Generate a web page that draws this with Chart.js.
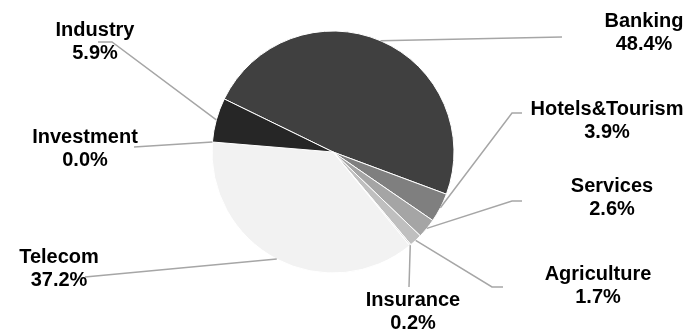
<!DOCTYPE html>
<html>
<head>
<meta charset="utf-8">
<script src="https://cdn.jsdelivr.net/npm/chart.js@4.4.0/dist/chart.umd.min.js"></script>
<style>
  html, body { margin: 0; padding: 0; background: #fff; }
  #wrap { width: 685px; height: 329px; }
</style>
</head>
<body>
<div id="wrap"><canvas id="myChart"></canvas></div>
<script>
// data
const sectors = ['Banking', 'Hotels&Tourism', 'Services', 'Agriculture', 'Insurance', 'Telecom', 'Investment', 'Industry'];
const shares = [48.4, 3.9, 2.6, 1.7, 0.2, 37.2, 0.0, 5.9];
const sliceColors = ['#404040', '#7f7f7f', '#a5a5a5', '#bfbfbf', '#d9d9d9', '#f2f2f2', '#0d0d0d', '#262626'];

// label placement: text center x, first baseline y, leader elbow, leader end
const labelPos = [
	{ tx: 644, ty: 27,  ex: 562, ey: 37,  hx: 562 },
	{ tx: 607, ty: 115, ex: 512, ey: 113, hx: 522 },
	{ tx: 612, ty: 192, ex: 512, ey: 201, hx: 522 },
	{ tx: 598, ty: 280, ex: 492, ey: 287, hx: 503 },
	{ tx: 413, ty: 306, ex: 409, ey: 287, hx: 409 },
	{ tx: 59,  ty: 263, ex: 85,  ey: 277, hx: 85 },
	{ tx: 85,  ty: 143, ex: 134, ey: 147, hx: 134 },
	{ tx: 95,  ty: 36,  ex: 112, ey: 42,  hx: 98 }
];

const ctx = document.querySelector('#myChart');

const leaderLabels = {
	id: 'leaderLabels',
	afterDatasetsDraw(chart) {
		const c = chart.ctx;
		const arcs = chart.getDatasetMeta(0).data;
		c.save();
		arcs.forEach((arc, i) => {
			const p = arc.getProps(['x', 'y', 'startAngle', 'endAngle', 'outerRadius'], true);
			const mid = (p.startAngle + p.endAngle) / 2;
			const sx = p.x + Math.cos(mid) * p.outerRadius;
			const sy = p.y + Math.sin(mid) * p.outerRadius;
			const lp = labelPos[i];
			c.strokeStyle = '#a6a6a6';
			c.lineWidth = 1.5;
			c.beginPath();
			c.moveTo(sx, sy);
			c.lineTo(lp.ex, lp.ey);
			c.lineTo(lp.hx, lp.ey);
			c.stroke();

			c.fillStyle = '#000';
			c.font = 'bold 20px "Liberation Sans", Arial, sans-serif';
			c.textAlign = 'center';
			c.textBaseline = 'alphabetic';
			c.fillText(sectors[i], lp.tx, lp.ty);
			c.fillText(shares[i].toFixed(1) + '%', lp.tx, lp.ty + 23);
		});
		c.restore();
	}
};

const pieChart = new Chart(ctx, {
	type: 'pie',
	data: {
		labels: sectors,
		datasets: [{
			data: shares,
			backgroundColor: sliceColors,
			borderColor: '#ffffff',
			borderWidth: 1
		}]
	},
	options: {
		responsive: true,
		maintainAspectRatio: false,
		animation: false,
		rotation: -64,
		radius: 121,
		layout: { padding: { left: 0, right: 19, top: 0, bottom: 25 } },
		plugins: {
			legend: { display: false },
			tooltip: { enabled: false }
		}
	},
	plugins: [leaderLabels]
});
</script>
</body>
</html>
